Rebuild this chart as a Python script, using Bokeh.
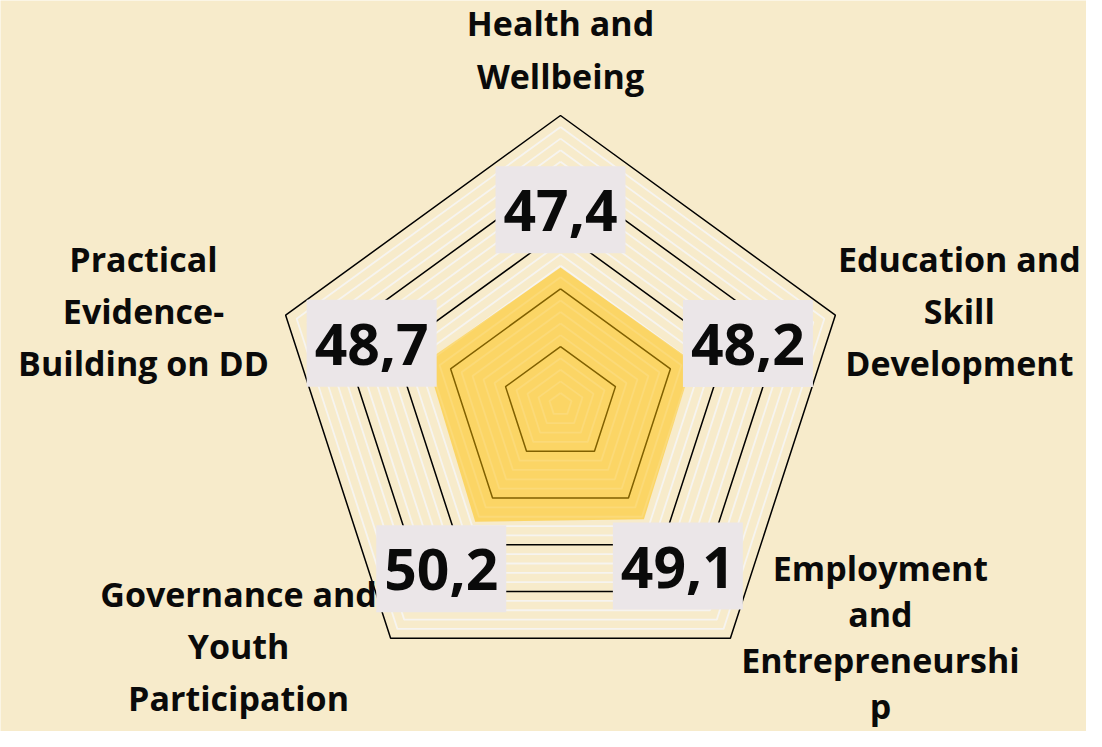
import math
from bokeh.plotting import figure
from bokeh.models import Range1d
from bokeh.core.properties import value
from bokeh.embed import file_html
from bokeh.resources import INLINE

# ---- data ----
categories = ["Health and Wellbeing", "Education and Skill Development",
              "Employment and Entrepreneurship", "Governance and Youth Participation",
              "Practical Evidence-Building on DD"]
label_lines = [["Health and", "Wellbeing"],
               ["Education and", "Skill", "Development"],
               ["Employment", "and", "Entrepreneurshi", "p"],
               ["Governance and", "Youth", "Participation"],
               ["Practical", "Evidence-", "Building on DD"]]
scores = [47.4, 48.2, 49.1, 50.2, 48.7]
score_labels = ["47,4", "48,2", "49,1", "50,2", "48,7"]
axis_max = 100
major_step = 20
minor_step = 4

# ---- style / layout ----
BG = "#F7EBCB"
FONT = "Open Sans"
PX = 2.89  # pixels per data unit
W, H = 1086, 731
cx_px, cy_px = 560, 404

p = figure(width=W, height=H, output_backend="svg", toolbar_location=None,
           x_range=Range1d(-cx_px / PX, (W - cx_px) / PX),
           y_range=Range1d(-(H - cy_px) / PX, cy_px / PX),
           min_border=0)
p.axis.visible = False
p.grid.visible = False
p.outline_line_color = None
p.background_fill_color = BG
p.border_fill_color = BG

n = len(categories)
angles = [math.pi / 2 - 2 * math.pi * i / n for i in range(n)]

def ring(r):
    xs = [r * math.cos(a) for a in angles] + [r * math.cos(angles[0])]
    ys = [r * math.sin(a) for a in angles] + [r * math.sin(angles[0])]
    return xs, ys

# minor rings
for r in range(minor_step, axis_max + 1, minor_step):
    if r % major_step != 0:
        xs, ys = ring(r)
        p.line(xs, ys, line_color="#F6F4F0", line_width=1.8)
# major rings
for r in range(major_step, axis_max + 1, major_step):
    xs, ys = ring(r)
    p.line(xs, ys, line_color="black", line_width=1.5)

# data area
dx = [s * math.cos(a) for s, a in zip(scores, angles)]
dy = [s * math.sin(a) for s, a in zip(scores, angles)]
p.patch(dx, dy, fill_color="#FFC000", fill_alpha=0.5, line_color=None)

# value labels
lab_r = [s + 20 for s in scores]
lx = [r * math.cos(a) for r, a in zip(lab_r, angles)]
ly = [r * math.sin(a) for r, a in zip(lab_r, angles)]
p.rect(lx, ly, width=130, height=87, width_units="screen", height_units="screen",
       fill_color="#EBE6E8", line_color=None)
p.text(lx, ly, text=score_labels, text_font=value(FONT), text_font_style="bold",
       text_font_size="57px", text_align="center", text_baseline="middle",
       text_color="#0A0A0A", y_offset=1)

# category labels (block centres in data units, line gap in px)
cat_pos = [(0, 123.0), (138.0, 32.5), (110.7, -80.6), (-111.4, -83.4), (-144.3, 32.5)]
gaps = [53, 52, 46, 52, 52]
for (bx, by), lines, g in zip(cat_pos, label_lines, gaps):
    k = len(lines)
    ys = [by + ((k - 1) / 2 - j) * g / PX for j in range(k)]
    p.text([bx] * k, ys, text=lines, text_font=value(FONT), text_font_style="bold",
           text_font_size="34px", text_align="center", text_baseline="middle",
           text_color="#0A0A0A")

open("out.html", "w").write(file_html(p, INLINE))
